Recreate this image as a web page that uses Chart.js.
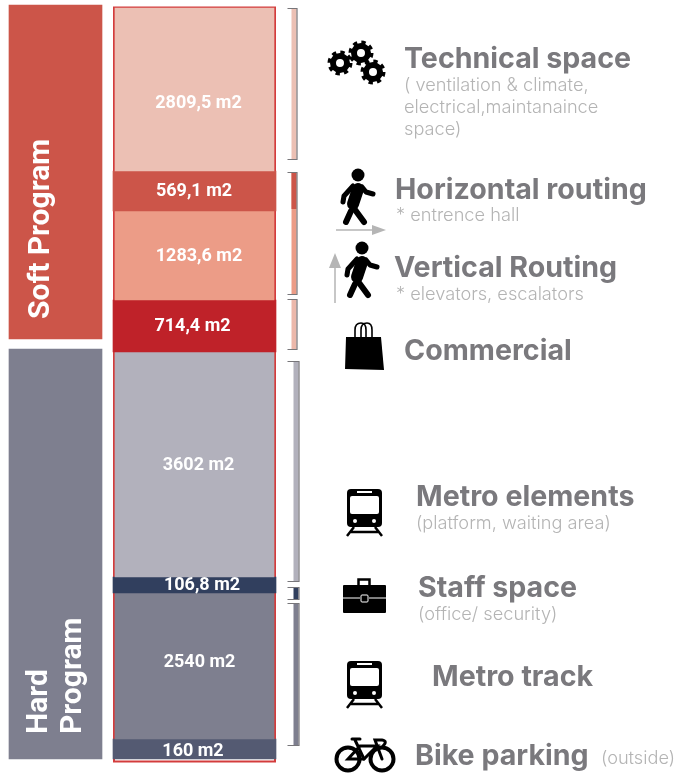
<!DOCTYPE html>
<html>
<head>
<meta charset="utf-8">
<title>Program areas</title>
<script src="https://cdn.jsdelivr.net/npm/chart.js@4/dist/chart.umd.min.js"></script>
<style>
    html, body { margin: 0; padding: 0; background: #fff; }
    #wrap { position: relative; width: 678px; height: 775px; overflow: hidden; }
    #areaChart { position: absolute; left: 0; top: 0; }
    #icons { position: absolute; left: 0; top: 0; }
    .head, .sub { position: absolute; white-space: nowrap; line-height: 1; font-family: Inter, sans-serif; }
    .head { font-weight: 700; font-size: 28.6px; color: #7a797d; }
    .sub { font-weight: 300; font-size: 18.2px; color: #b4b4b4; }
</style>
</head>
<body>
<div id="wrap">
    <canvas id="areaChart" width="678" height="775"></canvas>

    <svg id="icons" width="678" height="775">
        <defs>
            <g id="walker" fill="none" stroke="#000" stroke-linecap="round" stroke-linejoin="round">
                <circle cx="358" cy="175" r="6.5" fill="#000" stroke="none"/>
                <path d="M358 189 L353 204" stroke-width="12"/>
                <path d="M353 186 L344 196 L343 202" stroke-width="5"/>
                <path d="M362 187 L366 192 L373 194" stroke-width="5"/>
                <path d="M353 207 L364 222" stroke-width="6"/>
                <path d="M351 211 L346 222" stroke-width="6"/>
            </g>
            <g id="train">
                <rect x="347" y="489" width="35" height="38" rx="4" fill="#000"/>
                <rect x="350" y="496" width="29" height="18" rx="2" fill="#fff"/>
                <rect x="357" y="491" width="15" height="2" fill="#fff"/>
                <circle cx="355" cy="521" r="2" fill="#fff"/>
                <circle cx="374" cy="521" r="2" fill="#fff"/>
                <path d="M354 527 L347 536 M375 527 L382 536 M351 532 H378" stroke="#000" stroke-width="2.5" fill="none"/>
            </g>
            <g id="gear">
                <circle r="7" fill="none" stroke="#000" stroke-width="6"/>
                <circle r="10.5" fill="none" stroke="#000" stroke-width="4" stroke-dasharray="4.2 4.05"/>
            </g>
        </defs>

        <use href="#gear" x="340" y="63"/>
        <use href="#gear" x="361" y="53"/>
        <use href="#gear" x="373" y="72"/>

        <use href="#walker"/>
        <path d="M336 230 H378" stroke="#b5b5b5" stroke-width="1.5"/>
        <path d="M372 225 L386 230 L372 235 Z" fill="#b5b5b5"/>

        <use href="#walker" x="4" y="73"/>
        <path d="M335 303 V262" stroke="#b5b5b5" stroke-width="1.5"/>
        <path d="M329 268 L335 253 L341 268 Z" fill="#b5b5b5"/>

        <path d="M346 337 L381 337 L384 370 L345 369 Z" fill="#000"/>
        <path d="M355 340 V330 Q355 323 361 323 Q366 323 366 330 V340 M361 340 V330 Q361 323 367 323 Q372 323 372 330 V340" fill="none" stroke="#000" stroke-width="1.6"/>

        <use href="#train"/>

        <rect x="343" y="585" width="43" height="28" rx="1" fill="#000"/>
        <rect x="358.5" y="579.5" width="11" height="7" fill="none" stroke="#000" stroke-width="2.5"/>
        <path d="M343 598 H360 M369 598 H386" stroke="#fff" stroke-width="1"/>
        <rect x="361" y="595" width="7" height="7" rx="1" fill="#000" stroke="#fff" stroke-width="1"/>

        <use href="#train" y="172"/>

        <g fill="none" stroke="#000" stroke-linecap="round">
            <circle cx="348" cy="759" r="11.5" stroke-width="4"/>
            <circle cx="382" cy="759" r="11.5" stroke-width="4"/>
            <path d="M348 759 L360 746 L377 746 L364 759 Z" stroke-width="3"/>
            <path d="M355 740 L364 759 M352 739 H360" stroke-width="3"/>
            <path d="M382 759 L375 740 H382 Q388 741 383 746" stroke-width="3"/>
        </g>
    </svg>

    <div class="head" style="left:404px;top:44px">Technical space</div>
    <div class="sub" style="left:404px;top:75px">( ventilation &amp; climate,</div>
    <div class="sub" style="left:404px;top:97px">electrical,maintanaince</div>
    <div class="sub" style="left:404px;top:119px">space)</div>

    <div class="head" style="left:395px;top:175px">Horizontal routing</div>
    <div class="sub" style="left:396px;top:205px">* entrence hall</div>

    <div class="head" style="left:394px;top:253px">Vertical Routing</div>
    <div class="sub" style="left:396px;top:284px">* elevators, escalators</div>

    <div class="head" style="left:404px;top:336px">Commercial</div>

    <div class="head" style="left:416px;top:482px">Metro elements</div>
    <div class="sub" style="left:416px;top:513px">(platform, waiting area)</div>

    <div class="head" style="left:418px;top:573px">Staff space</div>
    <div class="sub" style="left:418px;top:604px">(office/ security)</div>

    <div class="head" style="left:432px;top:662px">Metro track</div>

    <div class="head" style="left:415px;top:741px">Bike parking</div>
    <div class="sub" style="left:601px;top:748px">(outside)</div>
</div>

<script>
'use strict';

var categories = ['Program', 'Breakdown'];

var programNames = ['Soft Program', 'Hard Program'];
var programHeights = [334, 410];
var programGaps = [5, 10];

// the areas printed on the bands
var spaceNames = ['Technical space', 'Horizontal routing', 'Vertical Routing', 'Commercial',
    'Metro elements', 'Staff space', 'Metro track', 'Bike parking'];
var spaceAreas = [2809.5, 569.1, 1283.6, 714.4, 3602, 106.8, 2540, 160];
// the source picture is not to scale, so band lengths are read off it separately from the areas
var bandHeights = [163, 40, 89, 52, 225, 16, 146, 20];
var bandGap = [8];

// bracket spans next to the bars, same units as the heights
var bracketStarts = [8, 172, 299, 361, 587, 603];
var bracketEnds = [160, 295, 350, 582, 600, 746];

var programColors = ['#cc5549', '#7e7f8f'];
var bandColors = ['#ecc0b4', '#cc5549', '#ec9c87', '#bf2229', '#b2b1bc', '#313f5e', '#7e7f8f', '#545a72'];
var bandWidths = [159, 163, 159, 163, 159, 163, 159, 163];
var bracketColors = ['#ecc0b4', '#ec9c87', '#ecb8ab', '#b2b1bc', '#313f5e', '#7e7f8f'];

// the band labels are not centred in the picture, nudges in px
var labelNudgeX = [4, -0.5, 4.5, -2, 4, 7.5, 5, -1.5];
var labelNudgeY = [14, 0, 1, 0, 1, 0, -4, 2];

var datasets = [];

function addBar(label, values, color, thickness) {
    datasets.push({
        label: label,
        data: values,
        stack: 'all',
        backgroundColor: color,
        borderWidth: 0,
        barThickness: thickness,
        clip: false
    });
}

addBar('gap', [programGaps[0], null], 'transparent', 93);
addBar(programNames[0], [programHeights[0], null], programColors[0], 93);
addBar('gap', [programGaps[1], null], 'transparent', 93);
addBar(programNames[1], [programHeights[1], null], programColors[1], 93);

addBar('gap', [null, bandGap[0]], 'transparent', 163);
var firstBand = datasets.length;
bandHeights.forEach(function (h, i) {
    addBar(spaceNames[i], [null, h], bandColors[i], bandWidths[i]);
});

function fmtArea(v) {
    return String(v).replace('.', ',') + ' m2';
}

// red outline round the whole breakdown column, sits behind the dark bands
var framePlugin = {
    id: 'frame',
    beforeDatasetsDraw: function (chart) {
        var y = chart.scales.y;
        var x = chart.scales.x.getPixelForValue(1);
        var total = bandHeights.reduce(function (a, b) { return a + b; }, bandGap[0]);
        var top = y.getPixelForValue(bandGap[0]);
        var ctx = chart.ctx;
        ctx.save();
        ctx.strokeStyle = '#d33c3c';
        ctx.lineWidth = 2;
        ctx.strokeRect(x - 80.5, top - 0.5, 161, y.getPixelForValue(total) - top + 3);
        ctx.restore();
    }
};

// the small brackets right of the column
var bracketPlugin = {
    id: 'brackets',
    afterDatasetsDraw: function (chart) {
        var y = chart.scales.y;
        var x = chart.scales.x.getPixelForValue(1) + 101;
        var ctx = chart.ctx;
        ctx.save();
        bracketStarts.forEach(function (s, i) {
            var top = y.getPixelForValue(s);
            var bottom = y.getPixelForValue(bracketEnds[i]);
            var hard = i > 2;
            var fillLeft = hard ? x - 2 : x - 4;
            ctx.fillStyle = bracketColors[i];
            ctx.fillRect(fillLeft, top, 5, bottom - top);
            if (i === 1) {
                // first part of the routing bracket belongs to the horizontal band
                ctx.fillStyle = bandColors[1];
                ctx.fillRect(fillLeft, top, 5, y.getPixelForValue(209) - top);
            }
            ctx.strokeStyle = '#77767a';
            ctx.lineWidth = 1.2;
            ctx.beginPath();
            ctx.moveTo(x - 8, top + 0.5);
            ctx.lineTo(x + (hard ? 3.5 : 1.5), top + 0.5);
            ctx.lineTo(x + (hard ? 3.5 : 1.5), bottom - 0.5);
            ctx.lineTo(x - 8, bottom - 0.5);
            ctx.stroke();
        });
        ctx.restore();
    }
};

function rotatedText(ctx, text, x, y) {
    ctx.save();
    ctx.translate(x, y);
    ctx.rotate(-Math.PI / 2);
    ctx.fillText(text, 0, 0);
    ctx.restore();
}

// white text on the bars
var labelPlugin = {
    id: 'barLabels',
    afterDatasetsDraw: function (chart) {
        var ctx = chart.ctx;
        ctx.save();
        ctx.fillStyle = '#fff';
        ctx.textBaseline = 'middle';
        ctx.textAlign = 'center';
        ctx.font = 'bold 18px Roboto';
        spaceAreas.forEach(function (a, i) {
            var bar = chart.getDatasetMeta(firstBand + i).data[1];
            ctx.fillText(fmtArea(a), bar.x + labelNudgeX[i], (bar.y + bar.base) / 2 + labelNudgeY[i]);
        });

        // bar.y is the lower end here because the axis is reversed
        var softBar = chart.getDatasetMeta(1).data[0];
        var hardBar = chart.getDatasetMeta(3).data[0];
        ctx.font = 'bold 30px Roboto';
        ctx.textAlign = 'left';
        ctx.textBaseline = 'alphabetic';
        rotatedText(ctx, 'Soft Program', 49, softBar.y - 20);
        rotatedText(ctx, 'Hard', 47, hardBar.y - 25);
        rotatedText(ctx, 'Program', 81, hardBar.y - 25);
        ctx.restore();
    }
};

var areaChart = new Chart(document.getElementById('areaChart'), {
    type: 'bar',
    data: { labels: categories, datasets: datasets },
    plugins: [framePlugin, bracketPlugin, labelPlugin],
    options: {
        responsive: false,
        animation: false,
        layout: { padding: { left: 55.5, right: 483.5, top: 0, bottom: 0 } },
        plugins: { legend: { display: false }, tooltip: { enabled: false } },
        scales: {
            x: { display: false, offset: false, stacked: true, grid: { display: false } },
            y: { display: false, stacked: true, reverse: true, min: 0, max: 775, grid: { display: false } }
        }
    }
});
</script>
</body>
</html>
